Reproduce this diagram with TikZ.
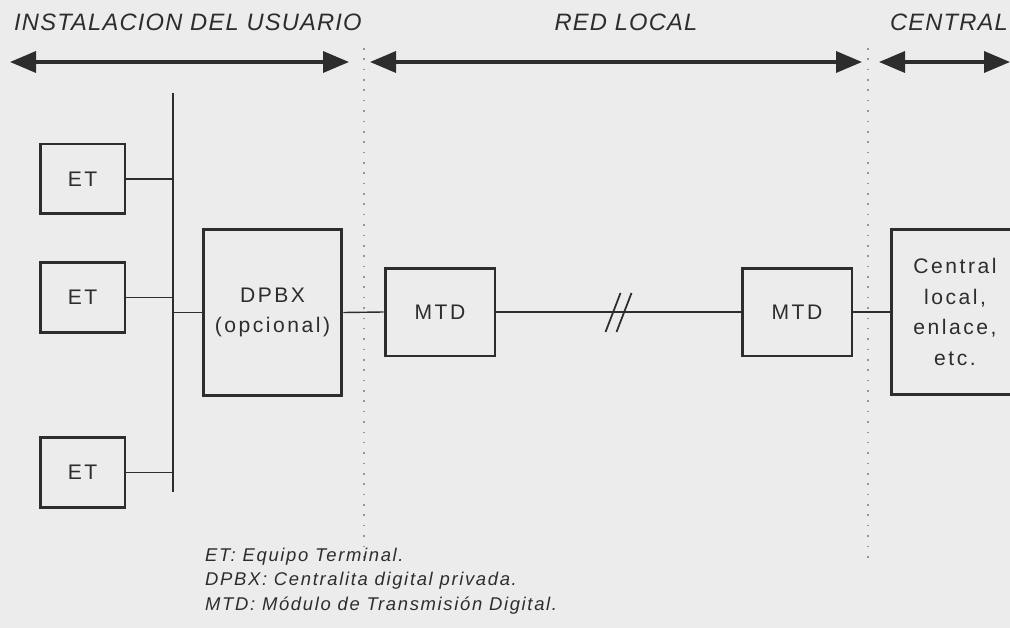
\documentclass[tikz,border=0pt]{standalone}
\usepackage{fontspec}
\setmainfont{Liberation Sans}
\newfontfamily\boxfont[LetterSpace=12]{Liberation Sans}
\newfontfamily\zonefont[LetterSpace=5]{Liberation Sans}
\newfontfamily\notefont[LetterSpace=9]{Liberation Sans}
\usetikzlibrary{arrows.meta,positioning}
\definecolor{paper}{RGB}{236,236,236}
\definecolor{ink}{RGB}{45,45,45}
\definecolor{dots}{RGB}{150,150,150}

\begin{document}
\begin{tikzpicture}[x=0.02cm, y=-0.02cm,
  every node/.style={text=ink},
  blk/.style={draw=ink, line width=1.7pt, fill=paper, align=center,
              font=\boxfont\fontsize{12}{17.5}\selectfont, inner sep=0pt},
  wire/.style={draw=ink, line width=0.8pt},
  zone/.style={font=\zonefont\itshape\fontsize{13.5}{16}\selectfont},
  span/.style={{Triangle[length=26*0.02cm, width=21*0.02cm]}-{Triangle[length=26*0.02cm, width=21*0.02cm]},
               draw=ink, line width=2pt},
  border/.style={draw=dots, line width=0.9pt, dash pattern=on 0.9pt off 5pt},
]

%% paper
\fill[paper] (0,0) rectangle (1010,628);
\useasboundingbox (0,0) rectangle (1010,628);

%% zone titles
\node[zone, anchor=west] (tuser) at (8,22) {INSTALACION DEL USUARIO};
\node[zone] (tred) at (626,22) {RED LOCAL};
\node[zone, anchor=east, inner xsep=1pt] (tcen) at (1010,22) {CENTRAL};

%% zone spans
\coordinate (u1) at (10,62);   \coordinate (u2) at (349,62);
\coordinate (r1) at (370,62);  \coordinate (r2) at (862,62);
\coordinate (c1) at (879,62);  \coordinate (c2) at (1010,62);
\draw[span] (u1) -- (u2);
\draw[span] (r1) -- (r2);
\draw[span] (c1) -- (c2);

%% zone borders
\coordinate (b1t) at (364,48);  \coordinate (b1b) at (364,562);
\coordinate (b2t) at (868,48);  \coordinate (b2b) at (868,558);
\draw[border] (b1t) -- (b1b);
\draw[border] (b2t) -- (b2b);

%% terminals
\node[blk, minimum width=1.7cm, minimum height=1.4cm] (et1) at (82.5,179) {ET};
\node[blk, minimum width=1.7cm, minimum height=1.4cm] (et2) at (82.5,297.5) {ET};
\node[blk, minimum width=1.7cm, minimum height=1.4cm] (et3) at (82.5,472.5) {ET};

%% bus
\coordinate (bustop) at (173,93);
\coordinate (busbot) at (173,492);
\draw[wire] (bustop) -- (busbot);
\foreach \et in {et1,et2,et3} {
  \draw[wire] (\et.east) -- (\et.east -| bustop);
}

%% DPBX
\node[blk, minimum width=2.78cm, minimum height=3.34cm] (dpbx) at (272.5,312.5)
  {DPBX\\(opcional)};
\draw[wire] (dpbx.west -| bustop) -- (dpbx.west);

%% MTD pair
\node[blk, minimum width=2.2cm, minimum height=1.76cm] (mtd1) at (440,312) {MTD};
\node[blk, minimum width=2.2cm, minimum height=1.76cm] (mtd2) at (797,312) {MTD};

%% central
\node[blk, minimum width=2.56cm, minimum height=3.32cm] (cen) at (955,312)
  {Central\\local,\\enlace,\\etc.};

%% links
\draw[wire] (dpbx.east) -- (mtd1.west);
\draw[wire] (mtd1.east) -- coordinate[pos=0.5] (cut) (mtd2.west);
\draw[wire] (mtd2.east) -- (cen.west);

%% line break mark
\draw[wire, line width=1pt] ([shift={(-13,20)}]cut) -- ([shift={(2,-19)}]cut);
\draw[wire, line width=1pt] ([shift={(-2,20)}]cut) -- ([shift={(13,-19)}]cut);

%% legend
\node[anchor=north west, align=left, font=\notefont\itshape\fontsize{10.5}{13.8}\selectfont]
  (legend) at (199,542)
  {ET: Equipo Terminal.\\DPBX: Centralita digital privada.\\MTD: M\'odulo de Transmisi\'on Digital.};

\end{tikzpicture}
\end{document}
